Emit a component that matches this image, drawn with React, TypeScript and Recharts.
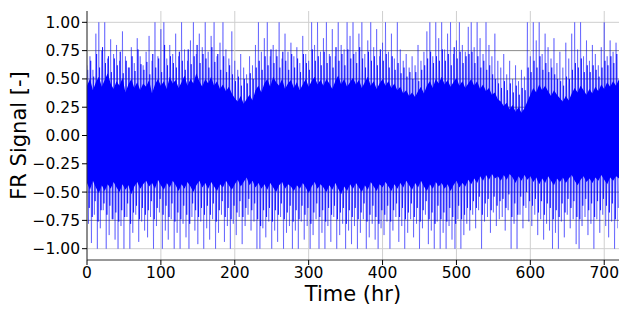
import { ComposedChart, Area, Line, XAxis, YAxis, CartesianGrid } from "recharts";

// tall upper spikes, one every 4 hr starting at t = 0
const peakUp = [
  0.62, 0.7, 0.58, 0.9, 1.0, 0.75, 1.0, 0.68, 0.85, 0.72,
  0.8, 0.66, 0.92, 0.7, 0.6, 0.78, 0.64, 0.86, 0.7, 0.62,
  0.74, 0.88, 0.66, 1.0, 0.7, 0.94, 1.0, 0.68, 0.8, 0.72,
  0.9, 0.7, 1.0, 0.76, 0.66, 0.84, 1.0, 0.72, 0.9, 0.78,
  1.0, 0.74, 0.88, 1.0, 0.7, 0.82, 1.0, 0.76, 0.68, 0.92,
  0.66, 0.58, 0.72, 0.6, 0.54, 0.7, 0.62, 0.8, 1.0, 0.74,
  0.86, 1.0, 0.7, 0.8, 0.76, 1.0, 0.68, 0.9, 0.74, 0.82,
  0.7, 0.78, 0.64, 0.88, 0.72, 0.66, 1.0, 0.8, 1.0, 0.74,
  0.86, 1.0, 0.72, 0.94, 0.7, 1.0, 0.8, 0.76, 1.0, 0.88,
  1.0, 0.74, 0.9, 1.0, 0.72, 0.84, 1.0, 0.78, 0.94, 0.7,
  0.82, 1.0, 0.74, 0.9, 0.68, 1.0, 0.76, 0.66, 0.72, 0.6,
  0.7, 0.62, 0.8, 0.66, 0.74, 0.92, 1.0, 0.7, 1.0, 0.86,
  1.0, 0.76, 0.9, 1.0, 0.72, 0.84, 1.0, 0.8, 0.74, 0.96,
  1.0, 0.78, 1.0, 0.86, 0.72, 1.0, 0.8, 0.7, 0.9, 0.66,
  0.6, 0.72, 0.54, 0.66, 0.5, 0.62, 0.48, 0.58, 0.52, 1.0,
  0.7, 1.0, 0.84, 1.0, 0.72, 0.9, 0.78, 0.68, 0.86, 0.64,
  0.74, 0.6, 0.82, 0.68, 0.9, 1.0, 0.76, 1.0, 0.7, 0.84,
  0.66, 0.8, 0.72, 0.62, 0.78, 1.0, 0.7, 0.84, 0.74, 0.82,
];

// tall lower spikes, one every 4 hr starting at t = 2
const peakDown = [
  -0.78, -0.95, -0.7, -1.0, -0.82, -0.66, -1.0, -0.88, -0.74, -0.92,
  -1.0, -0.8, -1.0, -0.72, -1.0, -0.86, -0.7, -0.94, -0.76, -0.84,
  -0.9, -0.72, -1.0, -0.8, -0.68, -1.0, -0.84, -0.92, -0.74, -1.0,
  -0.86, -1.0, -0.78, -0.9, -1.0, -0.72, -0.84, -0.96, -0.76, -1.0,
  -0.82, -0.92, -0.74, -1.0, -0.86, -0.7, -0.94, -0.8, -1.0, -0.78,
  -0.88, -0.72, -0.96, -0.8, -0.7, -0.84, -0.76, -1.0, -1.0, -0.82,
  -0.9, -0.76, -1.0, -0.84, -0.94, -0.72, -1.0, -0.86, -0.8, -1.0,
  -0.84, -1.0, -0.76, -0.92, -0.8, -1.0, -0.88, -0.74, -1.0, -0.86,
  -1.0, -0.8, -0.94, -0.72, -1.0, -0.88, -0.78, -1.0, -0.84, -0.96,
  -0.8, -1.0, -0.86, -0.74, -1.0, -0.9, -0.78, -0.92, -1.0, -0.82,
  -0.88, -0.76, -1.0, -0.84, -0.72, -0.94, -0.8, -1.0, -0.86, -0.74,
  -0.9, -0.78, -1.0, -0.82, -0.7, -0.96, -0.84, -1.0, -0.76, -1.0,
  -0.86, -1.0, -0.8, -0.92, -1.0, -0.74, -1.0, -0.88, -0.78, -0.84,
  -0.7, -0.82, -0.66, -1.0, -0.76, -0.72, -0.86, -0.68, -0.8, -0.74,
  -0.72, -0.84, -0.66, -1.0, -0.78, -1.0, -0.7, -0.82, -0.64, -0.76,
  -0.8, -0.7, -0.88, -0.74, -0.92, -0.78, -0.84, -1.0, -0.86, -1.0,
  -0.76, -0.9, -0.7, -0.82, -0.74, -0.96, -1.0, -0.8, -0.72, -0.88,
  -0.78, -1.0, -0.74, -0.86, -0.7, -0.8, -0.9, -0.76, -1.0, -0.82,
];

// medium upper swings, every 4 hr starting at t = 1
const midUp = [
  0.58, 0.66, 0.52, 0.72, 0.6, 0.78, 0.64, 0.7, 0.56, 0.68,
  0.62, 0.74, 0.55, 0.66, 0.6, 0.7, 0.57, 0.76, 0.63, 0.58,
  0.65, 0.54, 0.72, 0.6, 0.68, 0.56, 0.8, 0.62, 0.7, 0.64,
  0.6, 0.74, 0.66, 0.58, 0.76, 0.63, 0.7, 0.8, 0.64, 0.72,
  0.68, 0.6, 0.78, 0.65, 0.72, 0.58, 0.7, 0.56, 0.62, 0.54,
  0.48, 0.52, 0.44, 0.5, 0.46, 0.55, 0.5, 0.6, 0.66, 0.58,
  0.7, 0.62, 0.76, 0.64, 0.7, 0.6, 0.74, 0.66, 0.58, 0.72,
  0.6, 0.68, 0.56, 0.72, 0.64, 0.58, 0.76, 0.66, 0.7, 0.62,
  0.74, 0.64, 0.7, 0.6, 0.78, 0.66, 0.72, 0.62, 0.76, 0.68,
  0.72, 0.64, 0.78, 0.68, 0.6, 0.74, 0.66, 0.7, 0.62, 0.76,
  0.66, 0.72, 0.6, 0.7, 0.58, 0.64, 0.55, 0.6, 0.52, 0.56,
  0.5, 0.56, 0.48, 0.58, 0.62, 0.68, 0.74, 0.64, 0.7, 0.66,
  0.76, 0.66, 0.72, 0.62, 0.78, 0.68, 0.74, 0.64, 0.7, 0.72,
  0.74, 0.64, 0.7, 0.6, 0.66, 0.58, 0.62, 0.54, 0.5, 0.46,
  0.42, 0.48, 0.4, 0.46, 0.38, 0.44, 0.36, 0.42, 0.4, 0.6,
  0.56, 0.66, 0.6, 0.7, 0.58, 0.64, 0.56, 0.6, 0.54, 0.5,
  0.48, 0.44, 0.52, 0.5, 0.58, 0.64, 0.6, 0.68, 0.56, 0.62,
  0.56, 0.62, 0.58, 0.52, 0.6, 0.66, 0.62, 0.7, 0.64, 0.72,
];

// medium lower swings, every 4 hr starting at t = 3
const midDown = [
  -0.64, -0.72, -0.58, -0.76, -0.66, -0.6, -0.7, -0.62, -0.74, -0.68,
  -0.76, -0.66, -0.72, -0.6, -0.78, -0.68, -0.62, -0.74, -0.64, -0.7,
  -0.66, -0.58, -0.74, -0.64, -0.56, -0.7, -0.62, -0.72, -0.6, -0.76,
  -0.68, -0.74, -0.62, -0.7, -0.78, -0.6, -0.66, -0.72, -0.64, -0.7,
  -0.62, -0.7, -0.6, -0.76, -0.66, -0.58, -0.72, -0.64, -0.74, -0.62,
  -0.68, -0.58, -0.72, -0.64, -0.56, -0.66, -0.6, -0.74, -0.8, -0.66,
  -0.72, -0.64, -0.76, -0.66, -0.7, -0.6, -0.74, -0.68, -0.62, -0.76,
  -0.66, -0.74, -0.62, -0.7, -0.64, -0.78, -0.68, -0.6, -0.72, -0.66,
  -0.76, -0.64, -0.7, -0.62, -0.74, -0.68, -0.64, -0.78, -0.66, -0.72,
  -0.64, -0.74, -0.68, -0.6, -0.76, -0.7, -0.62, -0.72, -0.78, -0.66,
  -0.7, -0.62, -0.76, -0.66, -0.6, -0.72, -0.64, -0.74, -0.68, -0.6,
  -0.72, -0.64, -0.76, -0.66, -0.58, -0.74, -0.68, -0.78, -0.62, -0.74,
  -0.68, -0.76, -0.64, -0.72, -0.78, -0.62, -0.74, -0.7, -0.64, -0.66,
  -0.58, -0.64, -0.54, -0.7, -0.6, -0.56, -0.66, -0.54, -0.62, -0.58,
  -0.56, -0.64, -0.52, -0.72, -0.6, -0.7, -0.54, -0.62, -0.5, -0.58,
  -0.62, -0.56, -0.68, -0.58, -0.7, -0.6, -0.64, -0.74, -0.66, -0.72,
  -0.6, -0.68, -0.56, -0.64, -0.58, -0.72, -0.74, -0.62, -0.56, -0.66,
  -0.6, -0.72, -0.58, -0.66, -0.56, -0.62, -0.68, -0.6, -0.74, -0.64,
];

// solid core of the signal, every 4 hr from t = 0 to 720
const coreHi = [
  0.44, 0.5, 0.4, 0.47, 0.52, 0.43, 0.49, 0.55, 0.46, 0.41,
  0.48, 0.44, 0.51, 0.38, 0.45, 0.5, 0.42, 0.47, 0.4, 0.46,
  0.43, 0.49, 0.37, 0.45, 0.5, 0.44, 0.48, 0.41, 0.52, 0.46,
  0.49, 0.42, 0.47, 0.53, 0.44, 0.5, 0.46, 0.55, 0.48, 0.43,
  0.5, 0.46, 0.52, 0.44, 0.48, 0.41, 0.45, 0.39, 0.43, 0.37,
  0.33, 0.3, 0.35, 0.28, 0.32, 0.36, 0.31, 0.4, 0.44, 0.38,
  0.46, 0.5, 0.43, 0.52, 0.47, 0.44, 0.5, 0.41, 0.46, 0.49,
  0.42, 0.47, 0.4, 0.45, 0.5, 0.43, 0.48, 0.52, 0.45, 0.49,
  0.44, 0.5, 0.46, 0.41, 0.48, 0.53, 0.45, 0.5, 0.43, 0.47,
  0.51, 0.45, 0.49, 0.42, 0.47, 0.52, 0.44, 0.48, 0.41, 0.46,
  0.5, 0.44, 0.48, 0.42, 0.46, 0.4, 0.43, 0.37, 0.4, 0.35,
  0.38, 0.34, 0.39, 0.43, 0.37, 0.44, 0.48, 0.42, 0.5, 0.46,
  0.52, 0.45, 0.49, 0.43, 0.47, 0.51, 0.44, 0.48, 0.42, 0.46,
  0.5, 0.44, 0.48, 0.41, 0.45, 0.39, 0.42, 0.36, 0.38, 0.32,
  0.3, 0.26, 0.29, 0.23, 0.27, 0.21, 0.25, 0.2, 0.24, 0.3,
  0.36, 0.42, 0.38, 0.45, 0.4, 0.44, 0.39, 0.35, 0.4, 0.36,
  0.33, 0.3, 0.35, 0.31, 0.37, 0.42, 0.38, 0.44, 0.4, 0.36,
  0.41, 0.37, 0.43, 0.39, 0.45, 0.41, 0.47, 0.43, 0.48, 0.44,
  0.5,
];
const coreLo = [
  -0.42, -0.48, -0.4, -0.46, -0.51, -0.44, -0.49, -0.43, -0.47, -0.41,
  -0.46, -0.5, -0.43, -0.48, -0.44, -0.52, -0.45, -0.41, -0.47, -0.43,
  -0.4, -0.45, -0.42, -0.47, -0.39, -0.44, -0.48, -0.42, -0.46, -0.4,
  -0.44, -0.49, -0.43, -0.47, -0.41, -0.45, -0.5, -0.44, -0.4, -0.46,
  -0.42, -0.47, -0.41, -0.45, -0.49, -0.43, -0.46, -0.4, -0.44, -0.48,
  -0.43, -0.39, -0.45, -0.41, -0.37, -0.44, -0.4, -0.46, -0.42, -0.47,
  -0.43, -0.48, -0.42, -0.46, -0.5, -0.44, -0.41, -0.47, -0.43, -0.45,
  -0.49, -0.44, -0.47, -0.42, -0.46, -0.51, -0.45, -0.41, -0.47, -0.43,
  -0.46, -0.5, -0.44, -0.48, -0.42, -0.47, -0.52, -0.45, -0.49, -0.43,
  -0.47, -0.42, -0.46, -0.5, -0.44, -0.48, -0.41, -0.45, -0.49, -0.43,
  -0.46, -0.41, -0.45, -0.49, -0.43, -0.47, -0.42, -0.46, -0.4, -0.44,
  -0.48, -0.42, -0.46, -0.4, -0.45, -0.49, -0.43, -0.47, -0.41, -0.45,
  -0.42, -0.47, -0.43, -0.49, -0.44, -0.4, -0.46, -0.42, -0.45, -0.39,
  -0.43, -0.38, -0.42, -0.36, -0.4, -0.35, -0.39, -0.34, -0.38, -0.36,
  -0.4, -0.35, -0.39, -0.34, -0.37, -0.42, -0.36, -0.4, -0.35, -0.39,
  -0.36, -0.41, -0.37, -0.43, -0.38, -0.42, -0.36, -0.4, -0.44, -0.38,
  -0.41, -0.37, -0.42, -0.38, -0.35, -0.4, -0.44, -0.39, -0.36, -0.41,
  -0.38, -0.42, -0.37, -0.4, -0.35, -0.39, -0.43, -0.37, -0.4, -0.36,
  -0.38,
];

const xTicks = [0, 100, 200, 300, 400, 500, 600, 700];
const yTicks = [-1, -0.75, -0.5, -0.25, 0, 0.25, 0.5, 0.75, 1];

const coreData = coreHi.map((hi, i) => ({ t: i * 4, band: [coreLo[i], hi] }));
const spikeData = peakUp.flatMap((up, i) => [
  { t: i * 4, v: up },
  { t: i * 4 + 2, v: peakDown[i] },
]);
const midData = midUp.flatMap((up, i) => [
  { t: i * 4 + 1, v: up },
  { t: i * 4 + 3, v: midDown[i] },
]);

const font = "'DejaVu Sans', sans-serif";
const tickStyle = { fill: "#000", fontSize: 15.5, fontFamily: font };
const fmt = (v: number) => v.toFixed(2).replace("-", "\u2212");

export default function App() {
  return (
    <div style={{ position: "absolute", left: 0, top: 0, background: "#fff" }}>
      <ComposedChart
        width={630}
        height={315}
        margin={{ top: 11, right: 11, bottom: 0, left: 0 }}
      >
        <CartesianGrid
          horizontalValues={[-0.75, -0.5, -0.25, 0, 0.25, 0.5, 0.75]}
          vertical={false}
          stroke="#8c8c8c"
          strokeWidth={1}
        />
        <CartesianGrid
          horizontalValues={[-1, 1]}
          verticalValues={xTicks}
          stroke="#cfcfcf"
          strokeWidth={1}
        />
        <XAxis
          dataKey="t"
          type="number"
          domain={[0, 720]}
          ticks={xTicks}
          allowDataOverflow
          height={55}
          tick={tickStyle}
          tickSize={5}
          stroke="#000"
          axisLine={{ stroke: "#333" }}
          label={{
            value: "Time (hr)",
            position: "center",
            dy: 6,
            style: { fill: "#000", fontSize: 21, fontFamily: font },
          }}
        />
        <XAxis xAxisId="top" orientation="top" height={0} tick={false} tickLine={false} axisLine={{ stroke: "#333" }} />
        <YAxis
          type="number"
          domain={[-1.1, 1.1]}
          ticks={yTicks}
          allowDataOverflow
          width={87}
          tick={tickStyle}
          tickFormatter={fmt}
          tickSize={5}
          stroke="#000"
          axisLine={{ stroke: "#333" }}
          label={{
            value: "FR Signal [-]",
            angle: -90,
            position: "center",
            dx: -25,
            style: { fill: "#000", fontSize: 21, fontFamily: font },
          }}
        />
        <YAxis yAxisId="right" orientation="right" width={0} tick={false} tickLine={false} axisLine={{ stroke: "#333" }} />
        <Line
          data={spikeData}
          dataKey="v"
          type="linear"
          stroke="#0000ff"
          strokeOpacity={0.42}
          strokeWidth={0.9}
          dot={false}
          activeDot={false}
          isAnimationActive={false}
        />
        <Line
          data={midData}
          dataKey="v"
          type="linear"
          stroke="#0000ff"
          strokeOpacity={0.75}
          strokeWidth={0.9}
          dot={false}
          activeDot={false}
          isAnimationActive={false}
        />
        <Area
          data={coreData}
          dataKey="band"
          type="linear"
          fill="#0000ff"
          fillOpacity={1}
          stroke="none"
          isAnimationActive={false}
          dot={false}
          activeDot={false}
        />
      </ComposedChart>
    </div>
  );
}
